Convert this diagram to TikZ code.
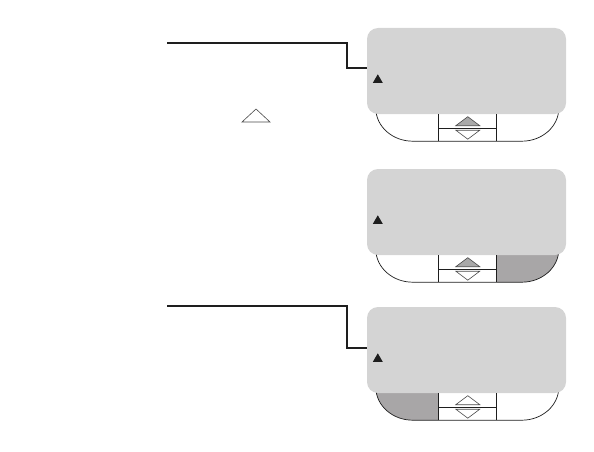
\documentclass[tikz,border=0pt]{standalone}
\usetikzlibrary{positioning,calc,backgrounds,shapes.geometric}
\definecolor{ink}{HTML}{1E1E1E}
\definecolor{ink2}{HTML}{4A4A4A}
\definecolor{lcd}{HTML}{D4D4D4}
\definecolor{keyon}{HTML}{A8A6A7}
\definecolor{upfill}{HTML}{A9A9A9}

\begin{document}
\begin{tikzpicture}[x=1pt, y=-1pt,
    screen/.style={fill=lcd, rounded corners=11pt, minimum width=199pt, minimum height=86pt, inner sep=0pt},
    tipmark/.style={regular polygon, regular polygon sides=3, fill=ink, inner sep=0pt, minimum size=11.5pt},
    lead/.style={draw=ink, line width=1.2pt},
    rim/.style={draw=ink, line width=0.7pt},
    keytri/.style={draw=ink2, line width=0.6pt, line join=miter},
  ]
  \useasboundingbox (0,0) rectangle (594,452);

  % ---- screen 1, with leader
  \node[screen] (scr1) at (466.5,71) {};
  \node[tipmark] (mk1) at ([xshift=11pt,yshift=-9pt]scr1.west) {};
  \coordinate (lead1) at (167,43);
  \coordinate (bend1) at (347,43);
  \draw[lead] (lead1) -- (bend1) |- ([yshift=3pt]scr1.west);
  \coordinate (kb1) at (scr1.south west);
  \begin{scope}[on background layer]
    \draw[rim] ($(kb1)+(9,-6)$) arc[start angle=180, end angle=90, x radius=37, y radius=33]
      -- ($(kb1)+(155,27)$) arc[start angle=90, end angle=0, x radius=37, y radius=33];
  \end{scope}
  \draw[rim] ($(kb1)+(72,0)$) -- ($(kb1)+(72,27)$);
  \draw[rim] ($(kb1)+(130,0)$) -- ($(kb1)+(130,27)$);
  \draw[rim] ($(kb1)+(72,14)$) -- ($(kb1)+(130,14)$);
  \draw[keytri, fill=upfill] ($(kb1)+(101,2.5)$) -- ($(kb1)+(113,11.5)$) -- ($(kb1)+(89,11.5)$) -- cycle;
  \draw[keytri, fill=white] ($(kb1)+(89,16)$) -- ($(kb1)+(113,16)$) -- ($(kb1)+(101,25)$) -- cycle;

  % the small open triangle
  \draw[keytri] (256,109) -- (270,122) -- (242,122) -- cycle;

  % ---- screen 2, right key pressed
  \node[screen] (scr2) at (466.5,212) {};
  \node[tipmark] (mk2) at ([xshift=11pt,yshift=-9pt]scr2.west) {};
  \coordinate (kb2) at (scr2.south west);
  \begin{scope}[on background layer]
    \fill[keyon] ($(kb2)+(130,-8)$) -- ($(kb2)+(130,27)$) -- ($(kb2)+(155,27)$)
      arc[start angle=90, end angle=0, x radius=37, y radius=33] -- cycle;
    \draw[rim] ($(kb2)+(9,-6)$) arc[start angle=180, end angle=90, x radius=37, y radius=33]
      -- ($(kb2)+(155,27)$) arc[start angle=90, end angle=0, x radius=37, y radius=33];
  \end{scope}
  \draw[rim] ($(kb2)+(72,0)$) -- ($(kb2)+(72,27)$);
  \draw[rim] ($(kb2)+(130,0)$) -- ($(kb2)+(130,27)$);
  \draw[rim] ($(kb2)+(72,14)$) -- ($(kb2)+(130,14)$);
  \draw[keytri, fill=upfill] ($(kb2)+(101,2.5)$) -- ($(kb2)+(113,11.5)$) -- ($(kb2)+(89,11.5)$) -- cycle;
  \draw[keytri, fill=white] ($(kb2)+(89,16)$) -- ($(kb2)+(113,16)$) -- ($(kb2)+(101,25)$) -- cycle;

  % ---- screen 3, left key pressed, with leader
  \node[screen] (scr3) at (466.5,350) {};
  \node[tipmark] (mk3) at ([xshift=11pt,yshift=-9pt]scr3.west) {};
  \coordinate (lead3) at (167,306);
  \coordinate (bend3) at (347,306);
  \draw[lead] (lead3) -- (bend3) |- ([yshift=2pt]scr3.west);
  \coordinate (kb3) at (scr3.south west);
  \begin{scope}[on background layer]
    \fill[keyon] ($(kb3)+(9,-6)$) arc[start angle=180, end angle=90, x radius=37, y radius=33]
      -- ($(kb3)+(72,27)$) -- ($(kb3)+(72,-8)$) -- cycle;
    \draw[rim] ($(kb3)+(9,-6)$) arc[start angle=180, end angle=90, x radius=37, y radius=33]
      -- ($(kb3)+(155,27)$) arc[start angle=90, end angle=0, x radius=37, y radius=33];
  \end{scope}
  \draw[rim] ($(kb3)+(72,0)$) -- ($(kb3)+(72,27)$);
  \draw[rim] ($(kb3)+(130,0)$) -- ($(kb3)+(130,27)$);
  \draw[rim] ($(kb3)+(72,14)$) -- ($(kb3)+(130,14)$);
  \draw[keytri, fill=white] ($(kb3)+(101,2.5)$) -- ($(kb3)+(113,11.5)$) -- ($(kb3)+(89,11.5)$) -- cycle;
  \draw[keytri, fill=white] ($(kb3)+(89,16)$) -- ($(kb3)+(113,16)$) -- ($(kb3)+(101,25)$) -- cycle;
\end{tikzpicture}
\end{document}
